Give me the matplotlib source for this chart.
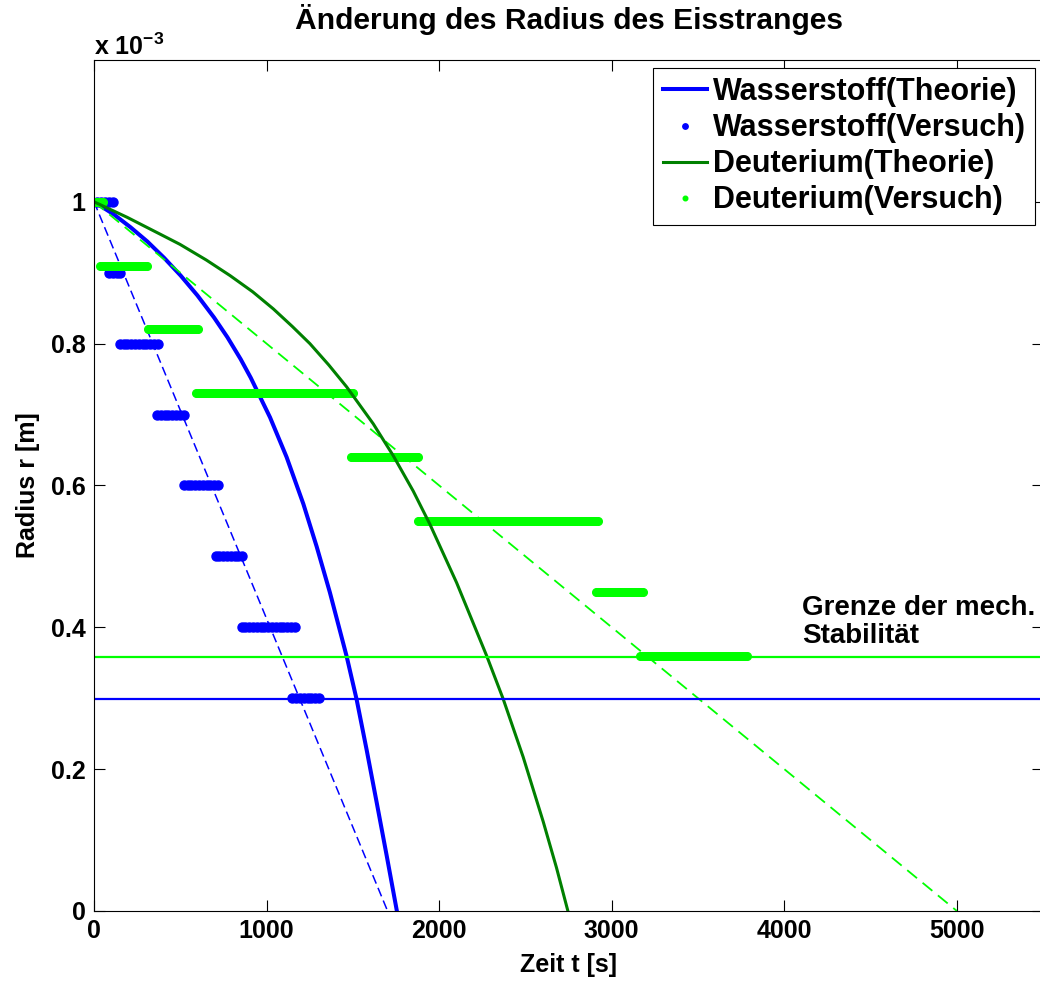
import matplotlib
matplotlib.use('Agg')
import matplotlib.pyplot as plt
import numpy as np

plt.rc('font', family='Liberation Sans', weight='bold', size=18)
plt.rc('axes', titleweight='bold', labelweight='bold')
plt.rc('mathtext', fontset='custom', rm='Liberation Sans:bold', default='rm')

# Theorie-Kurven (t in s, r in mm)
t_h_theo = [0, 116, 212, 309, 406, 502, 599, 695, 773, 850, 908, 1020, 1116, 1213,
            1290, 1367, 1464, 1522, 1580, 1638, 1696, 1755]
r_h_theo = [1.0, 0.982, 0.964, 0.944, 0.921, 0.896, 0.868, 0.837, 0.809, 0.778, 0.752,
            0.696, 0.640, 0.574, 0.514, 0.449, 0.359, 0.298, 0.227, 0.153, 0.078, 0.0]
t_d_theo = [0, 193, 386, 498, 650, 788, 920, 1039, 1150, 1251, 1360, 1464, 1618, 1734,
            1850, 1947, 2101, 2275, 2371, 2487, 2603, 2680, 2746]
r_d_theo = [1.0, 0.978, 0.954, 0.940, 0.918, 0.896, 0.873, 0.849, 0.824, 0.800, 0.770,
            0.739, 0.687, 0.642, 0.592, 0.545, 0.463, 0.360, 0.299, 0.217, 0.126, 0.061, 0.0]

# lineare Naeherung (Start / Ende)
t_h_lin = [0, 1701]
r_h_lin = [1.0, 0.0]
t_d_lin = [0, 5000]
r_d_lin = [1.0, 0.0]

# Versuch: Radius-Stufen mit Anfangs- und Endzeit
r_h_exp = [1.0, 0.9, 0.8, 0.7, 0.6, 0.5, 0.4, 0.3]
t_h_start = [20, 87, 150, 365, 520, 705, 855, 1150]
t_h_end = [110, 168, 380, 540, 725, 870, 1175, 1325]
r_d_exp = [1.0, 0.91, 0.82, 0.73, 0.64, 0.55, 0.45, 0.36]
t_d_start = [0, 35, 310, 590, 1490, 1880, 2910, 3165]
t_d_end = [50, 310, 600, 1500, 1880, 2920, 3180, 3790]

# Grenze der mechanischen Stabilitaet
r_h_grenze = 0.2985
r_d_grenze = 0.358

sc = 1e-3
fig = plt.figure(figsize=(10.4, 9.83), dpi=100)
ax = fig.add_axes([0.0904, 0.0733, 0.9126, 0.8657])

th, rh = [], []
for r, a, b in zip(r_h_exp, t_h_start, t_h_end):
    tt = np.arange(a, b + 1, 22)
    th.extend(tt)
    rh.extend([r]*len(tt))
td, rd = [], []
for r, a, b in zip(r_d_exp, t_d_start, t_d_end):
    tt = np.arange(a, b + 1, 10)
    td.extend(tt)
    rd.extend([r]*len(tt))

l1, = ax.plot(t_h_theo, np.array(r_h_theo)*sc, '-', color='#0000ff', lw=2.9)
l2, = ax.plot(th, np.array(rh)*sc, '.', color='#0000ff', ms=13)
ax.plot(t_h_lin, np.array(r_h_lin)*sc, '--', color='#0000ff', lw=1.1, dashes=(6, 3))
l4, = ax.plot(td, np.array(rd)*sc, '.', color='#00ff00', ms=11)
ax.plot(t_d_lin, np.array(r_d_lin)*sc, '--', color='#00ff00', lw=1.3, dashes=(7, 4))
l3, = ax.plot(t_d_theo, np.array(r_d_theo)*sc, '-', color='#008000', lw=2.2)
ax.axhline(r_d_grenze*sc, color='#00ff00', lw=1.6)
ax.axhline(r_h_grenze*sc, color='#0000ff', lw=1.6)

ax.text(4105, 0.37*sc, 'Grenze der mech.\nStabilität', fontsize=20,
        va='bottom', ha='left', linespacing=1.1)

ax.set_xlim(0, 5500)
ax.set_ylim(0, 1.2*sc)
ax.set_xticks([0, 1000, 2000, 3000, 4000, 5000])
yt = [0, 0.2, 0.4, 0.6, 0.8, 1.0]
ax.set_yticks(np.array(yt)*sc)
ax.set_yticklabels(['0', '0.2', '0.4', '0.6', '0.8', '1'])
ax.tick_params(direction='in', length=8, width=0.8, top=True, right=True, pad=6)
for s in ax.spines.values():
    s.set_linewidth(0.8)

ax.text(0.0, 1.0, r'x 10$^{-3}$', transform=ax.transAxes, ha='left', va='bottom')
ax.set_title('Änderung des Radius des Eisstranges', pad=22)
ax.set_xlabel('Zeit t [s]', labelpad=7)
ax.set_ylabel('Radius r [m]', labelpad=8)

leg = ax.legend([l1, l2, l3, l4],
                ['Wasserstoff(Theorie)', 'Wasserstoff(Versuch)',
                 'Deuterium(Theorie)', 'Deuterium(Versuch)'],
                loc='upper right', bbox_to_anchor=(0.9916, 0.9906),
                borderaxespad=0, fancybox=False, edgecolor='black',
                framealpha=1, handlelength=1.45, handletextpad=0.2,
                labelspacing=0.2, borderpad=0.3, markerscale=0.6, fontsize=22)
leg.get_frame().set_linewidth(0.8)

plt.savefig('out.png')
